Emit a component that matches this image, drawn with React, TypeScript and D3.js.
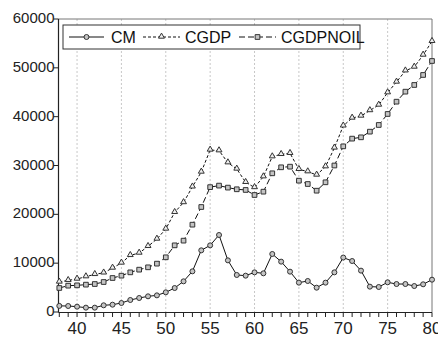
import React from 'react'
import * as d3 from 'd3'

// years 1938..1980 (shown as 38..80)
const years: number[] = d3.range(38, 81)

const cm: number[] = [
  1250, 1230, 1090, 890, 890, 1370, 1500, 1840, 2460, 2870, 3210, 3410, 4030,
  4910, 6280, 8330, 12630, 13650, 15770, 10580, 7580, 7440, 8120, 7920, 11880,
  10310, 8260, 6010, 6350, 4980, 6010, 8120, 11150, 10440, 8470, 5190, 5120,
  6080, 5730, 5730, 5320, 5670, 6620,
]

const cgdp: number[] = [
  6150, 6480, 6760, 7240, 7710, 8020, 9010, 10040, 11600, 12080, 13450, 14950,
  17000, 20410, 22420, 25630, 28670, 33180, 33040, 30580, 29290, 26560, 25500,
  27710, 31810, 32290, 32500, 29220, 28740, 28060, 29760, 33600, 38120, 39730,
  40140, 41260, 42390, 44920, 47100, 49400, 50170, 52630, 55430,
]

const cgdpNoil: number[] = [
  4920, 5390, 5460, 5600, 5730, 6140, 6960, 7440, 8120, 8670, 9150, 9900, 11200,
  13650, 14610, 17880, 21500, 25570, 25880, 25470, 25130, 24990, 23960, 24640,
  28400, 29630, 29760, 26890, 26210, 24840, 26560, 30000, 33920, 35500, 35770,
  36930, 38300, 40550, 43070, 45120, 46490, 48540, 51400,
]

const yTicks: number[] = [0, 10000, 20000, 30000, 40000, 50000, 60000]
const xTicks: number[] = [40, 45, 50, 55, 60, 65, 70, 75, 80]
const gridYears: number[] = [40, 45, 50, 55, 60, 65, 70, 75]

const W = 438
const H = 337
const x = d3.scaleLinear().domain([38, 80]).range([59.3, 432])
const y = d3.scaleLinear().domain([0, 60000]).range([312, 19])

const font = '"Liberation Sans", Arial, sans-serif'

const lineGen = d3
  .line<number>()
  .x((_, i) => x(years[i]))
  .y((d) => y(d))

const triPath = d3.symbol(d3.symbolTriangle, 15)()
const sqPath = d3.symbol(d3.symbolSquare, 22)()

const Marker = ({ kind, cx, cy }: { kind: string; cx: number; cy: number }) => {
  if (kind === 'circle')
    return <circle cx={cx} cy={cy} r={2.5} fill="#c4c4c4" stroke="#333" strokeWidth={1} />
  if (kind === 'tri')
    return (
      <path d={triPath || ''} transform={`translate(${cx},${cy - 0.5})`} fill="#eee" stroke="#333" strokeWidth={1} />
    )
  return <path d={sqPath || ''} transform={`translate(${cx},${cy})`} fill="#c4c4c4" stroke="#333" strokeWidth={1} />
}

const series = [
  { name: 'CM', data: cm, dash: undefined, kind: 'circle' },
  { name: 'CGDP', data: cgdp, dash: '3,2', kind: 'tri' },
  { name: 'CGDPNOIL', data: cgdpNoil, dash: '6,3', kind: 'sq' },
]

export default function App() {
  const x0 = 58.5
  const x1 = 432
  const yTop = 19
  const yBot = 312.5

  // legend layout
  const legend = [
    { ...series[0], l0: 69, l1: 104, tx: 111 },
    { ...series[1], l0: 143, l1: 180, tx: 185 },
    { ...series[2], l0: 239, l1: 276, tx: 281 },
  ]

  return (
    <svg
      width={W}
      height={H}
      style={{ position: 'absolute', left: 0, top: 0, background: '#fff' }}
      fontFamily={font}
    >
      {/* vertical grid */}
      {gridYears.map((g) => (
        <line key={g} x1={x(g)} x2={x(g)} y1={yTop} y2={yBot} stroke="#c8c8c8" strokeWidth={1} strokeDasharray="2,2" />
      ))}

      {/* frame */}
      <line x1={x0} x2={x1} y1={yTop} y2={yTop} stroke="#777" strokeWidth={1} />
      <line x1={x1} x2={x1} y1={yTop} y2={yBot} stroke="#777" strokeWidth={1} />

      {/* axes */}
      <line x1={x0} x2={x0} y1={yTop} y2={yBot} stroke="#222" strokeWidth={1.2} />
      <line x1={x0} x2={x1} y1={yBot} y2={yBot} stroke="#222" strokeWidth={1.2} />

      {yTicks.map((t) => (
        <g key={t}>
          <line x1={x0 - 5} x2={x0} y1={y(t)} y2={y(t)} stroke="#222" strokeWidth={1} />
          <text x={x0 - 4} y={y(t) - 1.5} fontSize={15} textAnchor="end" dominantBaseline="central" fill="#222">
            {t}
          </text>
        </g>
      ))}

      {years.map((yr) => (
        <line key={yr} x1={x(yr)} x2={x(yr)} y1={yBot} y2={yBot + 4.5} stroke="#222" strokeWidth={1} />
      ))}
      {xTicks.map((t) => (
        <text key={t} x={x(t)} y={334} fontSize={17} textAnchor="middle" fill="#222">
          {t}
        </text>
      ))}

      {/* series */}
      {series.map((s) => (
        <g key={s.name}>
          <path d={lineGen(s.data) || ''} fill="none" stroke="#111" strokeWidth={1} strokeDasharray={s.dash} />
          {s.data.map((v, i) => (
            <Marker key={i} kind={s.kind} cx={x(years[i])} cy={y(v)} />
          ))}
        </g>
      ))}

      {/* legend */}
      <rect x={63} y={25} width={297} height={24} fill="#fff" stroke="#333" strokeWidth={1} />
      {legend.map((l) => (
        <g key={l.name}>
          <line x1={l.l0} x2={l.l1} y1={37} y2={37} stroke="#111" strokeWidth={1} strokeDasharray={l.dash} />
          <Marker kind={l.kind} cx={(l.l0 + l.l1) / 2} cy={37} />
          <text x={l.tx} y={42.5} fontSize={16} fill="#111">
            {l.name}
          </text>
        </g>
      ))}
    </svg>
  )
}
